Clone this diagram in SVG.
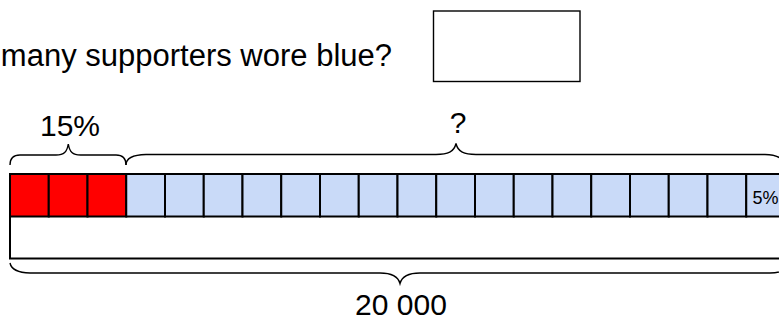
<svg xmlns="http://www.w3.org/2000/svg" width="779" height="320" viewBox="0 0 779 320">
<style>
text{font-family:"Liberation Sans",Arial,sans-serif;fill:#000}
.cell{stroke:#000;stroke-width:2}
.red{fill:#ff0000}
.blue{fill:#c9daf8}
.brace{fill:none;stroke:#000;stroke-width:1.4}
</style>
<rect width="779" height="320" fill="#fff"/>
<g id="question">
<text x="392" y="66" font-size="31" text-anchor="end">many supporters wore blue?</text>
</g>
<g id="answer-box">
<rect x="433.5" y="11" width="146.5" height="70.5" fill="#fff" stroke="#000" stroke-width="1.4"/>
</g>
<g id="bar">
<rect x="10" y="174" width="780" height="84.5" fill="#fff" stroke="#000" stroke-width="2"/>
<rect class="cell red" x="10" y="174" width="38.75" height="42.5"/>
<rect class="cell red" x="48.75" y="174" width="38.75" height="42.5"/>
<rect class="cell red" x="87.5" y="174" width="38.75" height="42.5"/>
<rect class="cell blue" x="126.25" y="174" width="38.75" height="42.5"/>
<rect class="cell blue" x="165" y="174" width="38.75" height="42.5"/>
<rect class="cell blue" x="203.75" y="174" width="38.75" height="42.5"/>
<rect class="cell blue" x="242.5" y="174" width="38.75" height="42.5"/>
<rect class="cell blue" x="281.25" y="174" width="38.75" height="42.5"/>
<rect class="cell blue" x="320" y="174" width="38.75" height="42.5"/>
<rect class="cell blue" x="358.75" y="174" width="38.75" height="42.5"/>
<rect class="cell blue" x="397.5" y="174" width="38.75" height="42.5"/>
<rect class="cell blue" x="436.25" y="174" width="38.75" height="42.5"/>
<rect class="cell blue" x="475" y="174" width="38.75" height="42.5"/>
<rect class="cell blue" x="513.75" y="174" width="38.75" height="42.5"/>
<rect class="cell blue" x="552.5" y="174" width="38.75" height="42.5"/>
<rect class="cell blue" x="591.25" y="174" width="38.75" height="42.5"/>
<rect class="cell blue" x="630" y="174" width="38.75" height="42.5"/>
<rect class="cell blue" x="668.75" y="174" width="38.75" height="42.5"/>
<rect class="cell blue" x="707.5" y="174" width="38.75" height="42.5"/>
<rect class="cell blue" x="746.25" y="174" width="38.75" height="42.5"/>
<text x="752.5" y="204" font-size="18">5%</text>
</g>
<g id="brace-15">
<path class="brace" d="M10,165 Q10,155 20,155 L56,155 C64,155 67,152 68.3,144 C69.6,152 72.6,155 80.6,155 L116,155 Q126,155 126,165"/>
<text x="70" y="136" font-size="30" text-anchor="middle">15%</text>
</g>
<g id="brace-rest">
<path class="brace" d="M126,165 Q126,155 146,154.5 L436,154.5 C448,154.5 454,152 456,143.5 C458,152 464,154.5 476,154.5 L765,154.5 Q783,155 785,165"/>
<text x="458" y="133" font-size="30" text-anchor="middle">?</text>
</g>
<g id="brace-total">
<path class="brace" d="M10,263 Q12,272.5 30,273 L380,273 C392,273 398,276 400,283.5 C402,276 408,273 420,273 L770,273 Q788,272.5 790,263"/>
<text x="401" y="315" font-size="30" text-anchor="middle">20 000</text>
</g>
</svg>
